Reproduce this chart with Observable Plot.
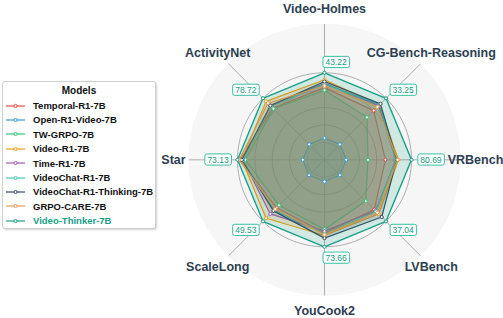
<!DOCTYPE html>
<html><head><meta charset="utf-8">
<script src="https://cdn.jsdelivr.net/npm/d3@7"></script>
<script src="https://cdn.jsdelivr.net/npm/@observablehq/plot@0.6"></script>
<style>
body{margin:0;background:#fff;font-family:"Liberation Sans",Arial,sans-serif;}
#wrap{position:relative;width:503px;height:318px;overflow:hidden;}
#legend{position:absolute;left:2px;top:81px;width:154px;height:148px;box-sizing:border-box;border:1px solid #cfcfcf;border-radius:3px;background:#fff;box-shadow:1px 1px 2px rgba(0,0,0,0.18);padding-top:2px;}
#legend .title{height:14.4px;line-height:14.4px;text-align:center;font-weight:bold;font-size:10px;color:#111;}
#legend .item{height:14.4px;display:flex;align-items:center;font-size:9.5px;font-weight:bold;color:#111;white-space:nowrap;}
#legend .item svg{flex:none;margin-right:4px;}
</style>
</head><body>
<div id="wrap"><div id="chart"></div><div id="legend"></div></div>
<script>
// ---- data ----
const axes = ["Video-Holmes","CG-Bench-Reasoning","VRBench","LVBench","YouCook2","ScaleLong","Star","ActivityNet"];
const bestScores = [43.22, 33.25, 80.69, 37.04, 73.66, 49.53, 73.13, 78.72];
const models = ["Temporal-R1-7B","Open-R1-Video-7B","TW-GRPO-7B","Video-R1-7B","Time-R1-7B","VideoChat-R1-7B","VideoChat-R1-Thinking-7B","GRPO-CARE-7B","Video-Thinker-7B"];
const colors = ["#e74c3c","#3498db","#2ecc71","#f39c12","#9b59b6","#48c9b0","#34495e","#eb984e","#16a085"];
// relative score on each axis (fraction of the best model's radius)
const temporalR1   = [0.83, 0.80, 0.70, 0.81, 0.84, 0.78, 0.97, 0.84];
const openR1Video  = [0.25, 0.25, 0.25, 0.25, 0.25, 0.25, 0.25, 0.25];
const twGrpo       = [0.80, 0.69, 0.50, 0.67, 0.80, 0.74, 0.91, 0.83];
const videoR1      = [0.92, 0.89, 0.85, 0.88, 0.87, 0.95, 0.95, 0.95];
const timeR1       = [0.88, 0.88, 0.82, 0.83, 0.82, 0.88, 0.94, 0.88];
const videoChatR1  = [0.87, 0.90, 0.82, 0.84, 0.85, 0.82, 0.94, 0.87];
const videoChatR1T = [0.90, 0.91, 0.83, 0.93, 0.90, 0.83, 0.95, 0.88];
const grpoCare     = [0.85, 0.86, 0.84, 0.86, 0.86, 0.80, 0.98, 0.92];
const videoThinker = [1.00, 1.00, 1.00, 1.00, 1.00, 1.00, 1.00, 1.00];
const series = [temporalR1, openR1Video, twGrpo, videoR1, timeR1, videoChatR1, videoChatR1T, grpoCare, videoThinker];
const rings = [0.2, 0.4, 0.6, 0.8, 1.0];

// ---- geometry ----
const W = 503, H = 318, cx = 324, cy = 159.3, U = 87;
const n = axes.length;
const ang = i => i * 2 * Math.PI / n;
const px = (r, i) => r * Math.sin(ang(i));
const py = (r, i) => r * Math.cos(ang(i));

const circle = (r, key) => d3.range(120).map(k => {
  const a = k / 120 * 2 * Math.PI;
  return {key, x: r * Math.sin(a), y: r * Math.cos(a)};
});
const diskPts = circle(1.563, "disk");
const ringPts = rings.flatMap(r => circle(r, r));
const spokes = axes.map((a, i) => ({x2: px(1.56, i), y2: py(1.56, i)}));

const marks = [
  Plot.line(diskPts, {x: "x", y: "y", fill: "#f6f6f6", stroke: "none", curve: "linear-closed"}),
  Plot.line(ringPts, {x: "x", y: "y", z: "key", stroke: "#9a9a9a", strokeWidth: 0.8, curve: "linear-closed"}),
  Plot.link(spokes, {x1: 0, y1: 0, x2: "x2", y2: "y2", stroke: "#9a9a9a", strokeWidth: 0.8})
];
models.forEach((m, j) => {
  const pts = series[j].map((r, i) => ({model: m, x: px(r, i), y: py(r, i)}));
  marks.push(Plot.line(pts, {x: "x", y: "y", stroke: colors[j], fill: colors[j], fillOpacity: j === 8 ? 0.16 : 0.19,
    strokeWidth: j === 8 ? 1.4 : 1.2, curve: "linear-closed"}));
});
models.forEach((m, j) => {
  const pts = series[j].map((r, i) => ({x: px(r, i), y: py(r, i)}));
  marks.push(Plot.dot(pts, {x: "x", y: "y", r: 1.6, fill: "white", stroke: colors[j], strokeWidth: 1}));
});

// value labels (best score on each axis)
const LR = 1.09;
const labelData = axes.map((a, i) => ({i, text: bestScores[i].toFixed(2), x: px(LR, i), y: py(LR, i)}));
const groups = [
  {ids: [0, 1], ta: "start", la: "bottom"},
  {ids: [2], ta: "start", la: "middle"},
  {ids: [3, 4], ta: "start", la: "top"},
  {ids: [5], ta: "end", la: "top"},
  {ids: [6], ta: "end", la: "middle"},
  {ids: [7], ta: "end", la: "bottom"}
];
const valueLabels = new Set(labelData.map(d => d.text));
groups.forEach(g => {
  marks.push(Plot.text(labelData.filter(d => g.ids.includes(d.i)), {
    x: "x", y: "y", text: "text", textAnchor: g.ta, lineAnchor: g.la,
    dx: g.ta === "start" ? 1 : -1, fill: "#16a085", fontSize: 8.5
  }));
});
// axis labels
const AR = 151 / U;
marks.push(Plot.text(axes.map((a, i) => ({a, x: px(AR, i), y: py(AR, i)})), {
  x: "x", y: "y", text: "a", fontSize: 12.5, fontWeight: "bold", fill: "#2c3e50"
}));

const chart = Plot.plot({
  width: W, height: H,
  marginTop: 0, marginRight: 0, marginBottom: 0, marginLeft: 0,
  x: {domain: [-cx / U, (W - cx) / U], range: [0, W], axis: null},
  y: {domain: [-(H - cy) / U, cy / U], range: [H, 0], axis: null},
  style: {fontFamily: "Liberation Sans, Arial, sans-serif", background: "transparent"},
  marks
});
document.getElementById("chart").appendChild(chart);

// boxes behind value labels
chart.querySelectorAll("text").forEach(t => {
  if (!valueLabels.has(t.textContent)) return;
  const b = t.getBBox();
  const r = document.createElementNS("http://www.w3.org/2000/svg", "rect");
  r.setAttribute("x", b.x - 2.5); r.setAttribute("y", b.y - 0.6);
  r.setAttribute("width", b.width + 5); r.setAttribute("height", b.height + 1.2);
  r.setAttribute("rx", 2); r.setAttribute("fill", "white");
  r.setAttribute("stroke", "#3cbfa4"); r.setAttribute("stroke-width", 1);
  if (t.getAttribute("transform")) r.setAttribute("transform", t.getAttribute("transform"));
  t.parentNode.insertBefore(r, t);
});

// legend
const lg = document.getElementById("legend");
lg.innerHTML = '<div class="title">Models</div>' + models.map((m, j) =>
  `<div class="item"><svg width="26" height="10"><line x1="3" x2="22" y1="5" y2="5" stroke="${colors[j]}" stroke-width="1.4" stroke-opacity="0.85"/>` +
  `<circle cx="12.5" cy="5" r="1.6" fill="white" stroke="${colors[j]}" stroke-width="1"/></svg>` +
  `<span style="color:${j === 8 ? "#16a085" : "#111"}">${m}</span></div>`).join("");
</script>
</body></html>
